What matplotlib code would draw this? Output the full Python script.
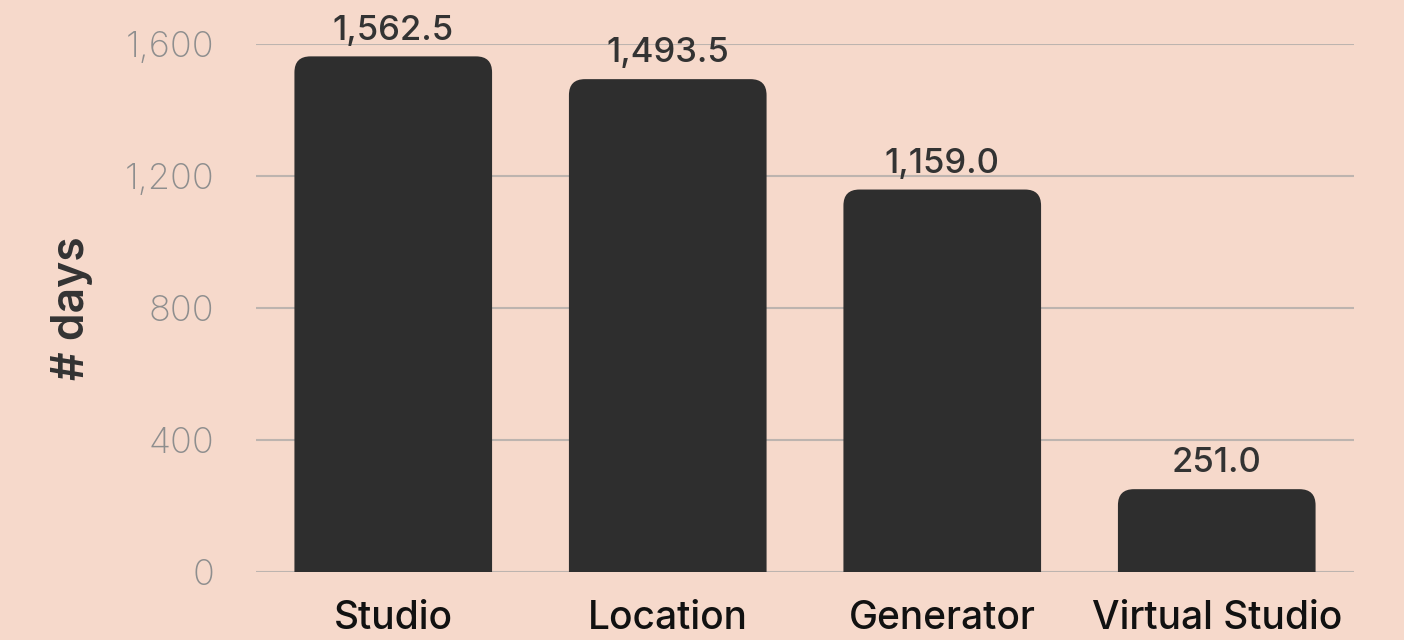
import matplotlib
matplotlib.use("Agg")
import matplotlib.pyplot as plt
from matplotlib.patches import FancyBboxPatch

# chart data
categories = ['Studio', 'Location', 'Generator', 'Virtual Studio']
days = [1562.5, 1493.5, 1159.0, 251.0]
y_ticks = [0, 400, 800, 1200, 1600]

bg = '#F6D9CB'
bar_color = '#2E2E2E'

plt.rcParams['font.family'] = ['Inter', 'DejaVu Sans']

fig = plt.figure(figsize=(14.04, 6.40), dpi=100, facecolor=bg)
ax = fig.add_axes([256 / 1404, 1 - 572 / 640, (1354 - 256) / 1404, (572 - 44) / 640])
ax.set_facecolor(bg)

x = range(len(categories))
bars = ax.bar(x, days, width=0.72, color=bar_color, zorder=3)
ax.set_xlim(-0.5, len(categories) - 0.5)
ax.set_ylim(0, 1600)

# swap the square bars for ones with rounded tops
fig.canvas.draw()
px_x = (ax.transData.inverted().transform((1, 0)) - ax.transData.inverted().transform((0, 0)))[0]
px_y = (ax.transData.inverted().transform((0, 1)) - ax.transData.inverted().transform((0, 0)))[1]
r_px = 16
for b in bars:
    b.set_visible(False)
    bx, bw, bh = b.get_x(), b.get_width(), b.get_height()
    patch = FancyBboxPatch((bx, -r_px * px_y * 1.5), bw, bh + r_px * px_y * 1.5,
                           boxstyle='round,pad=0,rounding_size=%f' % (r_px * px_x),
                           mutation_aspect=px_y / px_x,
                           facecolor=bar_color, edgecolor='none', zorder=3)
    ax.add_patch(patch)
    ax.annotate(f'{bh:,.1f}', (bx + bw / 2, bh), xytext=(0, 7), textcoords='offset points',
                ha='center', va='bottom', fontsize=25, fontweight='medium', color='#333333')

ax.set_yticks(y_ticks)
ax.set_yticklabels([f'{t:,}' for t in y_ticks])
ax.yaxis.grid(True, color='#BDB4AF', linewidth=1.5, zorder=0)
ax.set_axisbelow(True)
ax.set_xticks(list(x))
ax.set_xticklabels(categories)
for lbl in ax.get_xticklabels():
    lbl.set_fontsize(28)
    lbl.set_fontweight('medium')
    lbl.set_color('#111111')
for lbl in ax.get_yticklabels():
    lbl.set_fontsize(26)
    lbl.set_fontweight('light')
    lbl.set_color('#8E8E8E')
ax.tick_params(axis='both', length=0)
ax.tick_params(axis='y', pad=30)
ax.tick_params(axis='x', pad=20)
for s in ax.spines.values():
    s.set_visible(False)

ax.set_ylabel('# days', fontsize=32, fontweight='semibold', color='#333333', labelpad=23)

fig.savefig('out.png', dpi=100, facecolor=bg)
